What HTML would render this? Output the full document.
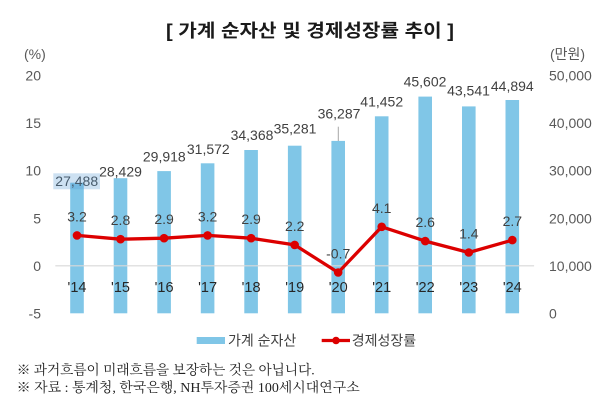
<!DOCTYPE html>
<html><head><meta charset="utf-8"><style>
html,body{margin:0;padding:0;background:#fff;}
svg{display:block;}
.s{font-family:"Liberation Sans","Noto Sans CJK KR",sans-serif;}
.k{font-family:"Liberation Sans","Noto Sans CJK KR",sans-serif;}
.f{font-family:"Liberation Serif","Noto Serif CJK SC",serif;}
</style></head><body>
<svg width="610" height="408" viewBox="0 0 610 408" xmlns="http://www.w3.org/2000/svg">
<rect width="610" height="408" fill="#fff"/>
<text class="k" x="310" y="37" font-size="18" font-weight="bold" fill="#1a1a1a" text-anchor="middle" textLength="288" lengthAdjust="spacingAndGlyphs">[ 가계 순자산 및 경제성장률 추이 ]</text>

<g class="s" font-size="14" fill="#595959">
<text x="24" y="59">(%)</text>
<text x="550" y="59" class="k">(만원)</text>
<g text-anchor="end">
<text x="41" y="80.7">20</text>
<text x="41" y="128.2">15</text>
<text x="41" y="175.7">10</text>
<text x="41" y="223.3">5</text>
<text x="41" y="270.8">0</text>
<text x="41" y="318.3">-5</text>
</g>
<text x="549" y="80.7">50,000</text>
<text x="549" y="128.2">40,000</text>
<text x="549" y="175.7">30,000</text>
<text x="549" y="223.3">20,000</text>
<text x="549" y="270.8">10,000</text>
<text x="549" y="318.3">0</text>
</g>

<!-- bars -->
<g fill="#80C6E7">
<rect x="70.2" y="182.7" width="13.6" height="130.6"/>
<rect x="113.7" y="178.2" width="13.6" height="135.1"/>
<rect x="157.3" y="171.1" width="13.6" height="142.2"/>
<rect x="200.8" y="163.3" width="13.6" height="150"/>
<rect x="244.3" y="150.0" width="13.6" height="163.3"/>
<rect x="287.9" y="145.7" width="13.6" height="167.6"/>
<rect x="331.4" y="140.9" width="13.6" height="172.4"/>
<rect x="374.9" y="116.3" width="13.6" height="197"/>
<rect x="418.4" y="96.6" width="13.6" height="216.7"/>
<rect x="462.0" y="106.4" width="13.6" height="206.9"/>
<rect x="505.5" y="100.0" width="13.6" height="213.3"/>
</g>

<line x1="55.3" y1="265.8" x2="534.1" y2="265.8" stroke="#d9d9d9" stroke-width="1.2"/>
<line x1="338.3" y1="126.7" x2="338.3" y2="141" stroke="#a6a6a6" stroke-width="1"/>

<!-- bar labels -->
<g class="s" font-size="14" fill="#404040" text-anchor="middle">
<text x="76.7" y="186">27,488</text>
<text x="120.5" y="176.5">28,429</text>
<text x="164.3" y="161.7">29,918</text>
<text x="208.3" y="154">31,572</text>
<text x="252" y="140">34,368</text>
<text x="295" y="133.3">35,281</text>
<text x="339" y="118.3">36,287</text>
<text x="381.7" y="106.7">41,452</text>
<text x="425" y="86.7">45,602</text>
<text x="468.5" y="95.7">43,541</text>
<text x="512.3" y="91">44,894</text>
</g>
<rect x="53.3" y="173.3" width="46.7" height="16" fill="#5b9bd5" fill-opacity="0.3"/>

<!-- line -->
<polyline fill="none" stroke="#DC0000" stroke-width="3.3" stroke-linejoin="round"
points="77,235.4 120.53,239.2 164.06,238.2 207.59,235.4 251.12,238.2 294.65,244.9 338.18,272.5 381.71,226.8 425.24,241.1 468.77,252.5 512.3,240.1"/>
<g fill="#DC0000">
<circle cx="77" cy="235.4" r="4.3"/>
<circle cx="120.53" cy="239.2" r="4.3"/>
<circle cx="164.06" cy="238.2" r="4.3"/>
<circle cx="207.59" cy="235.4" r="4.3"/>
<circle cx="251.12" cy="238.2" r="4.3"/>
<circle cx="294.65" cy="244.9" r="4.3"/>
<circle cx="338.18" cy="272.5" r="4.3"/>
<circle cx="381.71" cy="226.8" r="4.3"/>
<circle cx="425.24" cy="241.1" r="4.3"/>
<circle cx="468.77" cy="252.5" r="4.3"/>
<circle cx="512.3" cy="240.1" r="4.3"/>
</g>

<g class="s" font-size="14" fill="#404040" text-anchor="middle">
<text x="77" y="221.4">3.2</text>
<text x="120.5" y="225.2">2.8</text>
<text x="164.1" y="224.2">2.9</text>
<text x="207.6" y="221.4">3.2</text>
<text x="251.1" y="224.2">2.9</text>
<text x="294.7" y="230.9">2.2</text>
<text x="338.2" y="258.5">-0.7</text>
<text x="381.7" y="212.8">4.1</text>
<text x="425.2" y="227.1">2.6</text>
<text x="468.8" y="238.5">1.4</text>
<text x="512.3" y="226.1">2.7</text>
</g>

<g class="s" font-size="14.5" fill="#262626" text-anchor="middle">
<text x="77" y="291.8">'14</text>
<text x="120.5" y="291.8">'15</text>
<text x="164.1" y="291.8">'16</text>
<text x="207.6" y="291.8">'17</text>
<text x="251.1" y="291.8">'18</text>
<text x="294.7" y="291.8">'19</text>
<text x="338.2" y="291.8">'20</text>
<text x="381.7" y="291.8">'21</text>
<text x="425.2" y="291.8">'22</text>
<text x="468.8" y="291.8">'23</text>
<text x="512.3" y="291.8">'24</text>
</g>

<!-- legend -->
<rect x="196.7" y="337" width="28.3" height="7" fill="#80C6E7"/>
<text class="k" x="228" y="345.5" font-size="14" fill="#404040">가계 순자산</text>
<line x1="321.7" y1="340.5" x2="350" y2="340.5" stroke="#DC0000" stroke-width="3.3"/>
<circle cx="336" cy="340.5" r="3.8" fill="#DC0000"/>
<text class="k" x="351.7" y="345.5" font-size="14" fill="#404040">경제성장률</text>

<!-- footnotes -->
<text class="f" x="16.7" y="374.5" font-size="13.7" fill="#222" textLength="298" lengthAdjust="spacingAndGlyphs">※ 과거흐름이 미래흐름을 보장하는 것은 아닙니다.</text>
<text class="f" x="16.7" y="392.2" font-size="13.7" fill="#222" textLength="343" lengthAdjust="spacingAndGlyphs">※ 자료 : 통계청, 한국은행, NH투자증권 100세시대연구소</text>
</svg>
</body></html>
